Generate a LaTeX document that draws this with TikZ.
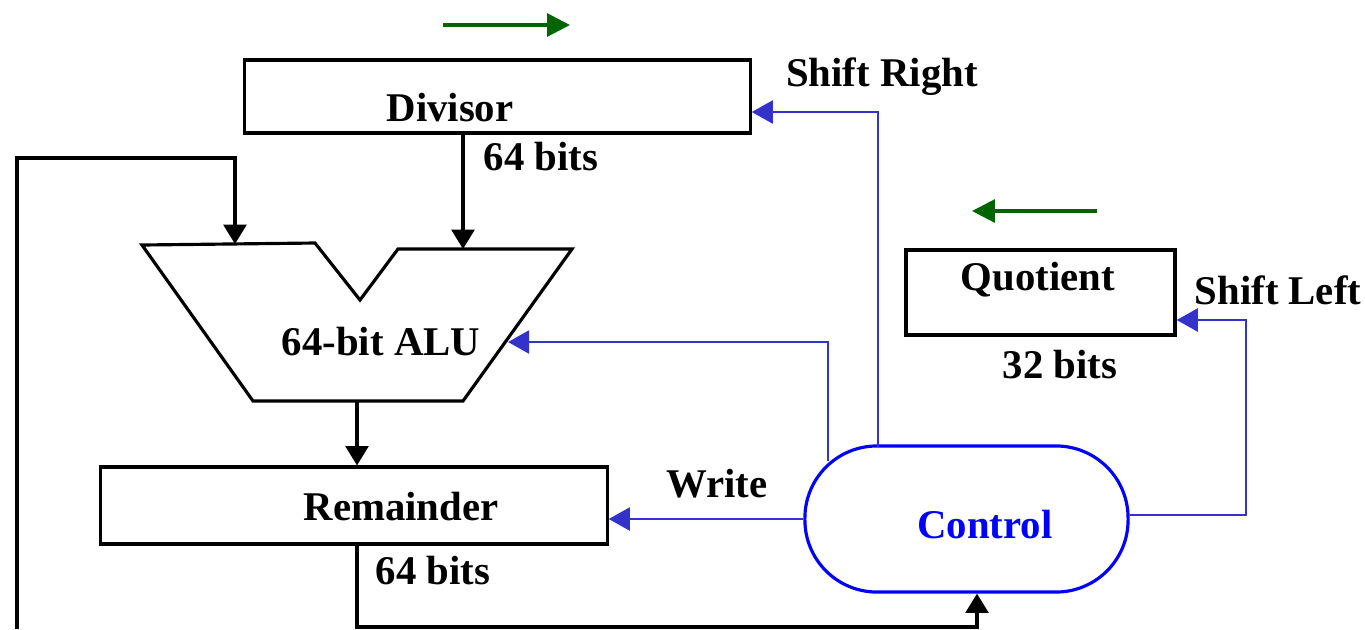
\documentclass[tikz,border=0pt]{standalone}
\usepackage{fontspec}
\setmainfont{Liberation Serif}
\usetikzlibrary{arrows.meta}
\definecolor{ctlblue}{RGB}{51,51,204}
\definecolor{ctlborder}{RGB}{0,0,255}
\definecolor{dirgreen}{RGB}{0,100,0}
\tikzset{
  reg/.style={draw=black, line width=0.9pt, inner sep=0pt},
  lbl/.style={font=\bfseries\fontsize{11.6}{13}\selectfont, inner sep=0pt},
  blk/.style={draw=black, line width=0.9pt, -{Triangle[length=5.5pt,width=6.5pt]}},
  ctl/.style={draw=ctlblue, line width=0.8pt, -{Triangle[length=6pt,width=6.5pt]}},
  dir/.style={draw=dirgreen, line width=0.9pt, -{Triangle[length=6.5pt,width=6.5pt]}},
}
\begin{document}
\begin{tikzpicture}[x=0.01cm, y=-0.01cm]
\useasboundingbox (0,0) rectangle (1365,629);
% registers
\node[reg, minimum width=5.05cm, minimum height=0.73cm] (div) at (497.5,96.5) {};
\node[lbl] at (450,108) {Divisor};
\node[lbl] at (541,157) {64 bits};
\node[reg, minimum width=5.06cm, minimum height=0.77cm] (rem) at (354,505.5) {};
\node[lbl] at (401,507) {Remainder};
\node[lbl] at (433,571) {64 bits};
\node[reg, minimum width=2.69cm, minimum height=0.85cm] (quo) at (1040.5,292.5) {};
\node[lbl] at (1038,280) {Quotient};
\node[lbl] at (1060,365) {32 bits};
% ALU
\coordinate (a1) at (142,245);
\coordinate (a2) at (315,243);
\coordinate (a3) at (360,300);
\coordinate (a4) at (398,249);
\coordinate (a5) at (572,249);
\coordinate (a6) at (463,401);
\coordinate (a7) at (253,401);
\draw[line width=0.9pt, line join=miter] (a1) -- (a2) -- (a3) -- (a4) -- (a5) -- (a6) -- (a7) -- cycle;
\node[lbl] (alu) at (381,342) {64-bit ALU};
\coordinate (aluL) at (235,244);
\coordinate (aluR) at (463,249);
\coordinate (aluB) at (357,401);
\coordinate (aluE) at (508,342);
% control
\node[draw=ctlborder, line width=0.9pt, rounded corners=0.72cm, minimum width=3.23cm, minimum height=1.46cm, inner sep=0pt] (ctrl) at (966.5,519) {};
\node[lbl, text=ctlborder] at (985,525) {Control};
% black data paths
\draw[blk] (div.south -| aluR) -- (aluR);
\draw[blk] (aluB) -- (aluB |- rem.north);
\coordinate (loopB) at (17,629);
\coordinate (loopT) at (17,158);
\draw[blk] (loopB) -- (loopT) -- (loopT -| aluL) -- (aluL);
\coordinate (rb1) at (357,627);
\coordinate (rb2) at (977,627);
\draw[blk] (rem.south -| rb1) -- (rb1) -- (rb2) -- (rb2 |- ctrl.south);
% control signals
\coordinate (sr) at (878,112);
\draw[ctl] (878,447) -- (sr) -- (sr -| div.east);
\node[lbl] at (882,77) {Shift Right};
\coordinate (ac) at (828,342);
\draw[ctl] (828,461) -- (ac) -- (aluE);
\draw[ctl] (ctrl.west |- 0,519) -- (rem.east |- 0,519);
\node[lbl] at (717,484) {Write};
\coordinate (sl1) at (1246,515);
\coordinate (sl2) at (1246,320);
\draw[ctl] (ctrl.east |- sl1) -- (sl1) -- (sl2) -- (sl2 -| quo.east);
\node[lbl] at (1278,290) {Shift Left};
% direction arrows
\coordinate (g1) at (443,25);
\coordinate (g2) at (570,25);
\draw[dir] (g1) -- (g2);
\coordinate (g3) at (1097,211);
\coordinate (g4) at (972,211);
\draw[dir] (g3) -- (g4);
\end{tikzpicture}
\end{document}
